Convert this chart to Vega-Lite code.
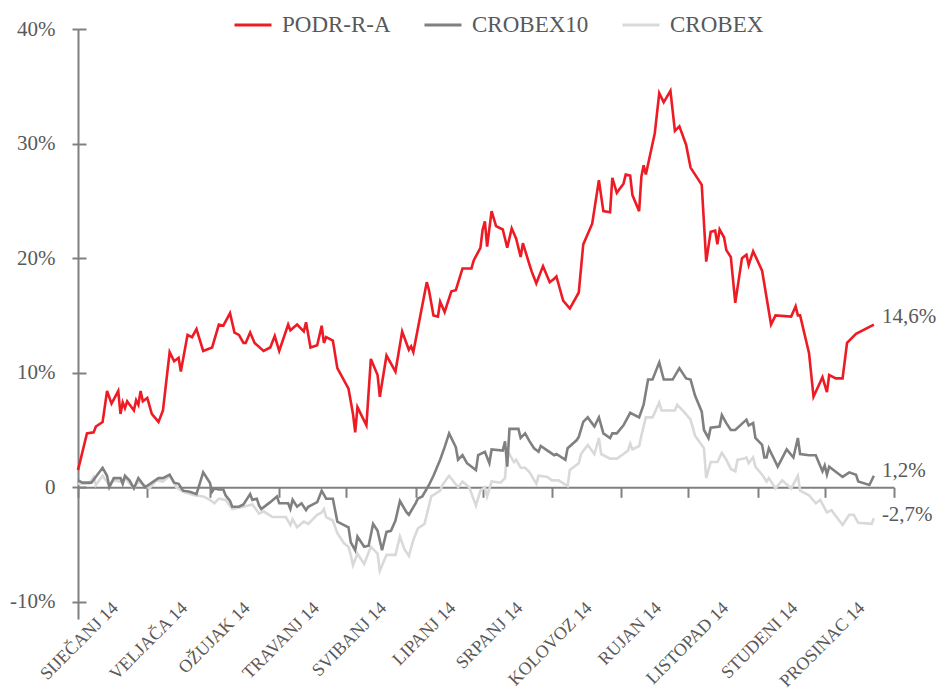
{
  "$schema": "https://vega.github.io/schema/vega-lite/v6.json",
  "width": 816,
  "height": 590,
  "autosize": {"type": "none"},
  "padding": {"left": 78, "top": 29, "right": 45, "bottom": 72},
  "background": "white",
  "config": {"view": {"stroke": null}, "font": "Liberation Serif"},
  "datasets": {
    "series": [
      {"s":"CROBEX","d":"2014-01-01","v":0.3},{"s":"CROBEX","d":"2014-01-03","v":0.3},{"s":"CROBEX","d":"2014-01-06","v":0.3},{"s":"CROBEX","d":"2014-01-08","v":0.9},{"s":"CROBEX","d":"2014-01-09","v":0.2},{"s":"CROBEX","d":"2014-01-12","v":1.0},{"s":"CROBEX","d":"2014-01-15","v":0.2},{"s":"CROBEX","d":"2014-01-17","v":0.6},{"s":"CROBEX","d":"2014-01-20","v":0.5},{"s":"CROBEX","d":"2014-01-22","v":0.8},{"s":"CROBEX","d":"2014-01-26","v":-0.1},{"s":"CROBEX","d":"2014-01-28","v":0.5},{"s":"CROBEX","d":"2014-02-02","v":-0.1},{"s":"CROBEX","d":"2014-02-05","v":0.6},{"s":"CROBEX","d":"2014-02-08","v":0.5},{"s":"CROBEX","d":"2014-02-11","v":1.0},{"s":"CROBEX","d":"2014-02-14","v":0.0},{"s":"CROBEX","d":"2014-02-17","v":-0.4},{"s":"CROBEX","d":"2014-02-22","v":-0.7},{"s":"CROBEX","d":"2014-02-26","v":-0.8},{"s":"CROBEX","d":"2014-03-01","v":-1.1},{"s":"CROBEX","d":"2014-03-03","v":-1.4},{"s":"CROBEX","d":"2014-03-05","v":-1.0},{"s":"CROBEX","d":"2014-03-08","v":-1.1},{"s":"CROBEX","d":"2014-03-11","v":-1.9},{"s":"CROBEX","d":"2014-03-16","v":-1.7},{"s":"CROBEX","d":"2014-03-20","v":-1.5},{"s":"CROBEX","d":"2014-03-23","v":-2.3},{"s":"CROBEX","d":"2014-03-25","v":-2.1},{"s":"CROBEX","d":"2014-03-29","v":-2.6},{"s":"CROBEX","d":"2014-04-04","v":-2.6},{"s":"CROBEX","d":"2014-04-06","v":-3.3},{"s":"CROBEX","d":"2014-04-07","v":-2.8},{"s":"CROBEX","d":"2014-04-09","v":-3.5},{"s":"CROBEX","d":"2014-04-12","v":-3.0},{"s":"CROBEX","d":"2014-04-14","v":-3.2},{"s":"CROBEX","d":"2014-04-18","v":-2.4},{"s":"CROBEX","d":"2014-04-20","v":-2.2},{"s":"CROBEX","d":"2014-04-21","v":-1.9},{"s":"CROBEX","d":"2014-04-22","v":-2.6},{"s":"CROBEX","d":"2014-04-25","v":-2.9},{"s":"CROBEX","d":"2014-04-27","v":-4.0},{"s":"CROBEX","d":"2014-04-30","v":-4.9},{"s":"CROBEX","d":"2014-05-02","v":-5.2},{"s":"CROBEX","d":"2014-05-03","v":-5.9},{"s":"CROBEX","d":"2014-05-04","v":-6.8},{"s":"CROBEX","d":"2014-05-06","v":-5.8},{"s":"CROBEX","d":"2014-05-09","v":-6.7},{"s":"CROBEX","d":"2014-05-12","v":-5.2},{"s":"CROBEX","d":"2014-05-15","v":-5.8},{"s":"CROBEX","d":"2014-05-16","v":-7.3},{"s":"CROBEX","d":"2014-05-19","v":-5.9},{"s":"CROBEX","d":"2014-05-23","v":-5.9},{"s":"CROBEX","d":"2014-05-25","v":-4.3},{"s":"CROBEX","d":"2014-05-27","v":-5.4},{"s":"CROBEX","d":"2014-05-29","v":-6.0},{"s":"CROBEX","d":"2014-05-31","v":-4.6},{"s":"CROBEX","d":"2014-06-02","v":-3.6},{"s":"CROBEX","d":"2014-06-05","v":-3.2},{"s":"CROBEX","d":"2014-06-07","v":-1.6},{"s":"CROBEX","d":"2014-06-08","v":-0.8},{"s":"CROBEX","d":"2014-06-12","v":-0.3},{"s":"CROBEX","d":"2014-06-13","v":0.2},{"s":"CROBEX","d":"2014-06-16","v":1.0},{"s":"CROBEX","d":"2014-06-20","v":0.0},{"s":"CROBEX","d":"2014-06-22","v":0.5},{"s":"CROBEX","d":"2014-06-25","v":0.0},{"s":"CROBEX","d":"2014-06-28","v":-1.6},{"s":"CROBEX","d":"2014-06-30","v":-0.3},{"s":"CROBEX","d":"2014-07-02","v":0.0},{"s":"CROBEX","d":"2014-07-03","v":-0.8},{"s":"CROBEX","d":"2014-07-05","v":0.5},{"s":"CROBEX","d":"2014-07-09","v":0.4},{"s":"CROBEX","d":"2014-07-11","v":0.8},{"s":"CROBEX","d":"2014-07-12","v":3.2},{"s":"CROBEX","d":"2014-07-15","v":2.2},{"s":"CROBEX","d":"2014-07-16","v":2.4},{"s":"CROBEX","d":"2014-07-18","v":1.7},{"s":"CROBEX","d":"2014-07-20","v":1.7},{"s":"CROBEX","d":"2014-07-22","v":1.3},{"s":"CROBEX","d":"2014-07-25","v":0.3},{"s":"CROBEX","d":"2014-07-26","v":1.0},{"s":"CROBEX","d":"2014-07-30","v":0.9},{"s":"CROBEX","d":"2014-08-01","v":0.6},{"s":"CROBEX","d":"2014-08-04","v":0.6},{"s":"CROBEX","d":"2014-08-08","v":0.1},{"s":"CROBEX","d":"2014-08-09","v":1.5},{"s":"CROBEX","d":"2014-08-13","v":2.1},{"s":"CROBEX","d":"2014-08-14","v":2.9},{"s":"CROBEX","d":"2014-08-17","v":3.7},{"s":"CROBEX","d":"2014-08-20","v":2.9},{"s":"CROBEX","d":"2014-08-22","v":4.3},{"s":"CROBEX","d":"2014-08-23","v":2.9},{"s":"CROBEX","d":"2014-08-27","v":2.5},{"s":"CROBEX","d":"2014-08-30","v":2.5},{"s":"CROBEX","d":"2014-09-02","v":2.9},{"s":"CROBEX","d":"2014-09-04","v":3.2},{"s":"CROBEX","d":"2014-09-05","v":3.8},{"s":"CROBEX","d":"2014-09-06","v":3.3},{"s":"CROBEX","d":"2014-09-09","v":3.6},{"s":"CROBEX","d":"2014-09-10","v":4.5},{"s":"CROBEX","d":"2014-09-12","v":6.1},{"s":"CROBEX","d":"2014-09-15","v":6.1},{"s":"CROBEX","d":"2014-09-18","v":7.4},{"s":"CROBEX","d":"2014-09-19","v":6.7},{"s":"CROBEX","d":"2014-09-25","v":6.7},{"s":"CROBEX","d":"2014-09-26","v":7.2},{"s":"CROBEX","d":"2014-09-29","v":6.6},{"s":"CROBEX","d":"2014-10-02","v":5.9},{"s":"CROBEX","d":"2014-10-04","v":4.5},{"s":"CROBEX","d":"2014-10-08","v":3.4},{"s":"CROBEX","d":"2014-10-09","v":0.8},{"s":"CROBEX","d":"2014-10-11","v":2.2},{"s":"CROBEX","d":"2014-10-14","v":2.2},{"s":"CROBEX","d":"2014-10-16","v":3.0},{"s":"CROBEX","d":"2014-10-18","v":2.4},{"s":"CROBEX","d":"2014-10-20","v":1.6},{"s":"CROBEX","d":"2014-10-22","v":1.4},{"s":"CROBEX","d":"2014-10-23","v":2.4},{"s":"CROBEX","d":"2014-10-26","v":2.5},{"s":"CROBEX","d":"2014-10-27","v":2.6},{"s":"CROBEX","d":"2014-10-28","v":2.1},{"s":"CROBEX","d":"2014-10-30","v":2.6},{"s":"CROBEX","d":"2014-10-31","v":1.8},{"s":"CROBEX","d":"2014-11-03","v":1.1},{"s":"CROBEX","d":"2014-11-05","v":0.5},{"s":"CROBEX","d":"2014-11-06","v":0.8},{"s":"CROBEX","d":"2014-11-09","v":-0.1},{"s":"CROBEX","d":"2014-11-12","v":0.6},{"s":"CROBEX","d":"2014-11-16","v":-0.1},{"s":"CROBEX","d":"2014-11-19","v":1.0},{"s":"CROBEX","d":"2014-11-20","v":-0.3},{"s":"CROBEX","d":"2014-11-24","v":-0.7},{"s":"CROBEX","d":"2014-11-27","v":-1.4},{"s":"CROBEX","d":"2014-11-29","v":-1.1},{"s":"CROBEX","d":"2014-12-02","v":-2.2},{"s":"CROBEX","d":"2014-12-04","v":-2.0},{"s":"CROBEX","d":"2014-12-09","v":-3.3},{"s":"CROBEX","d":"2014-12-12","v":-2.4},{"s":"CROBEX","d":"2014-12-14","v":-2.4},{"s":"CROBEX","d":"2014-12-16","v":-3.1},{"s":"CROBEX","d":"2014-12-22","v":-3.2},{"s":"CROBEX","d":"2014-12-23","v":-2.7},
      {"s":"CROBEX10","d":"2014-01-01","v":0.6},{"s":"CROBEX10","d":"2014-01-03","v":0.4},{"s":"CROBEX10","d":"2014-01-07","v":0.4},{"s":"CROBEX10","d":"2014-01-12","v":1.7},{"s":"CROBEX10","d":"2014-01-14","v":1.0},{"s":"CROBEX10","d":"2014-01-15","v":0.0},{"s":"CROBEX10","d":"2014-01-17","v":0.8},{"s":"CROBEX10","d":"2014-01-20","v":0.8},{"s":"CROBEX10","d":"2014-01-21","v":0.3},{"s":"CROBEX10","d":"2014-01-22","v":1.0},{"s":"CROBEX10","d":"2014-01-24","v":0.6},{"s":"CROBEX10","d":"2014-01-26","v":-0.1},{"s":"CROBEX10","d":"2014-01-28","v":0.8},{"s":"CROBEX10","d":"2014-01-31","v":0.0},{"s":"CROBEX10","d":"2014-02-06","v":0.8},{"s":"CROBEX10","d":"2014-02-08","v":0.8},{"s":"CROBEX10","d":"2014-02-11","v":1.1},{"s":"CROBEX10","d":"2014-02-13","v":0.4},{"s":"CROBEX10","d":"2014-02-15","v":0.3},{"s":"CROBEX10","d":"2014-02-17","v":-0.3},{"s":"CROBEX10","d":"2014-02-20","v":-0.4},{"s":"CROBEX10","d":"2014-02-23","v":-0.6},{"s":"CROBEX10","d":"2014-02-26","v":1.3},{"s":"CROBEX10","d":"2014-03-01","v":0.4},{"s":"CROBEX10","d":"2014-03-02","v":-0.4},{"s":"CROBEX10","d":"2014-03-03","v":-0.1},{"s":"CROBEX10","d":"2014-03-05","v":-0.2},{"s":"CROBEX10","d":"2014-03-07","v":-0.2},{"s":"CROBEX10","d":"2014-03-08","v":-0.7},{"s":"CROBEX10","d":"2014-03-10","v":-1.2},{"s":"CROBEX10","d":"2014-03-11","v":-1.7},{"s":"CROBEX10","d":"2014-03-14","v":-1.7},{"s":"CROBEX10","d":"2014-03-16","v":-1.5},{"s":"CROBEX10","d":"2014-03-19","v":-0.6},{"s":"CROBEX10","d":"2014-03-20","v":-1.1},{"s":"CROBEX10","d":"2014-03-22","v":-1.0},{"s":"CROBEX10","d":"2014-03-23","v":-1.6},{"s":"CROBEX10","d":"2014-03-24","v":-1.9},{"s":"CROBEX10","d":"2014-03-28","v":-1.3},{"s":"CROBEX10","d":"2014-03-31","v":-0.8},{"s":"CROBEX10","d":"2014-04-01","v":-1.4},{"s":"CROBEX10","d":"2014-04-05","v":-1.4},{"s":"CROBEX10","d":"2014-04-06","v":-1.9},{"s":"CROBEX10","d":"2014-04-07","v":-1.1},{"s":"CROBEX10","d":"2014-04-09","v":-1.7},{"s":"CROBEX10","d":"2014-04-11","v":-1.4},{"s":"CROBEX10","d":"2014-04-13","v":-2.0},{"s":"CROBEX10","d":"2014-04-14","v":-1.7},{"s":"CROBEX10","d":"2014-04-18","v":-1.3},{"s":"CROBEX10","d":"2014-04-20","v":-0.3},{"s":"CROBEX10","d":"2014-04-22","v":-1.0},{"s":"CROBEX10","d":"2014-04-25","v":-1.0},{"s":"CROBEX10","d":"2014-04-27","v":-3.0},{"s":"CROBEX10","d":"2014-04-30","v":-3.3},{"s":"CROBEX10","d":"2014-05-02","v":-3.5},{"s":"CROBEX10","d":"2014-05-03","v":-4.8},{"s":"CROBEX10","d":"2014-05-05","v":-5.5},{"s":"CROBEX10","d":"2014-05-06","v":-4.3},{"s":"CROBEX10","d":"2014-05-09","v":-5.2},{"s":"CROBEX10","d":"2014-05-11","v":-5.1},{"s":"CROBEX10","d":"2014-05-13","v":-3.2},{"s":"CROBEX10","d":"2014-05-15","v":-3.8},{"s":"CROBEX10","d":"2014-05-17","v":-5.5},{"s":"CROBEX10","d":"2014-05-19","v":-3.9},{"s":"CROBEX10","d":"2014-05-21","v":-3.8},{"s":"CROBEX10","d":"2014-05-23","v":-2.9},{"s":"CROBEX10","d":"2014-05-25","v":-1.2},{"s":"CROBEX10","d":"2014-05-28","v":-2.2},{"s":"CROBEX10","d":"2014-05-29","v":-2.4},{"s":"CROBEX10","d":"2014-06-01","v":-1.4},{"s":"CROBEX10","d":"2014-06-02","v":-1.0},{"s":"CROBEX10","d":"2014-06-04","v":-0.8},{"s":"CROBEX10","d":"2014-06-07","v":0.2},{"s":"CROBEX10","d":"2014-06-09","v":1.0},{"s":"CROBEX10","d":"2014-06-12","v":2.4},{"s":"CROBEX10","d":"2014-06-14","v":3.5},{"s":"CROBEX10","d":"2014-06-16","v":4.7},{"s":"CROBEX10","d":"2014-06-19","v":3.5},{"s":"CROBEX10","d":"2014-06-20","v":2.4},{"s":"CROBEX10","d":"2014-06-22","v":2.8},{"s":"CROBEX10","d":"2014-06-24","v":2.1},{"s":"CROBEX10","d":"2014-06-28","v":1.5},{"s":"CROBEX10","d":"2014-06-29","v":2.8},{"s":"CROBEX10","d":"2014-07-02","v":3.1},{"s":"CROBEX10","d":"2014-07-04","v":2.1},{"s":"CROBEX10","d":"2014-07-05","v":3.3},{"s":"CROBEX10","d":"2014-07-10","v":3.2},{"s":"CROBEX10","d":"2014-07-11","v":4.0},{"s":"CROBEX10","d":"2014-07-12","v":1.8},{"s":"CROBEX10","d":"2014-07-13","v":5.1},{"s":"CROBEX10","d":"2014-07-17","v":5.1},{"s":"CROBEX10","d":"2014-07-18","v":4.3},{"s":"CROBEX10","d":"2014-07-20","v":4.7},{"s":"CROBEX10","d":"2014-07-22","v":4.0},{"s":"CROBEX10","d":"2014-07-24","v":3.4},{"s":"CROBEX10","d":"2014-07-26","v":3.1},{"s":"CROBEX10","d":"2014-07-27","v":3.6},{"s":"CROBEX10","d":"2014-07-30","v":3.2},{"s":"CROBEX10","d":"2014-08-02","v":2.8},{"s":"CROBEX10","d":"2014-08-03","v":2.9},{"s":"CROBEX10","d":"2014-08-07","v":2.4},{"s":"CROBEX10","d":"2014-08-08","v":3.4},{"s":"CROBEX10","d":"2014-08-12","v":4.1},{"s":"CROBEX10","d":"2014-08-13","v":4.4},{"s":"CROBEX10","d":"2014-08-15","v":5.7},{"s":"CROBEX10","d":"2014-08-17","v":6.1},{"s":"CROBEX10","d":"2014-08-20","v":5.3},{"s":"CROBEX10","d":"2014-08-22","v":6.1},{"s":"CROBEX10","d":"2014-08-24","v":4.7},{"s":"CROBEX10","d":"2014-08-27","v":4.3},{"s":"CROBEX10","d":"2014-08-28","v":4.7},{"s":"CROBEX10","d":"2014-08-30","v":4.7},{"s":"CROBEX10","d":"2014-09-02","v":5.4},{"s":"CROBEX10","d":"2014-09-05","v":6.5},{"s":"CROBEX10","d":"2014-09-09","v":6.1},{"s":"CROBEX10","d":"2014-09-11","v":7.2},{"s":"CROBEX10","d":"2014-09-13","v":9.4},{"s":"CROBEX10","d":"2014-09-15","v":9.4},{"s":"CROBEX10","d":"2014-09-18","v":10.9},{"s":"CROBEX10","d":"2014-09-20","v":9.4},{"s":"CROBEX10","d":"2014-09-24","v":9.4},{"s":"CROBEX10","d":"2014-09-27","v":10.4},{"s":"CROBEX10","d":"2014-09-30","v":9.5},{"s":"CROBEX10","d":"2014-10-02","v":9.4},{"s":"CROBEX10","d":"2014-10-04","v":8.0},{"s":"CROBEX10","d":"2014-10-07","v":6.6},{"s":"CROBEX10","d":"2014-10-08","v":5.0},{"s":"CROBEX10","d":"2014-10-10","v":4.3},{"s":"CROBEX10","d":"2014-10-11","v":5.2},{"s":"CROBEX10","d":"2014-10-15","v":5.3},{"s":"CROBEX10","d":"2014-10-16","v":6.3},{"s":"CROBEX10","d":"2014-10-18","v":5.6},{"s":"CROBEX10","d":"2014-10-20","v":5.0},{"s":"CROBEX10","d":"2014-10-22","v":5.0},{"s":"CROBEX10","d":"2014-10-27","v":5.9},{"s":"CROBEX10","d":"2014-10-28","v":5.4},{"s":"CROBEX10","d":"2014-10-30","v":5.6},{"s":"CROBEX10","d":"2014-10-31","v":4.3},{"s":"CROBEX10","d":"2014-11-03","v":3.7},{"s":"CROBEX10","d":"2014-11-04","v":2.6},{"s":"CROBEX10","d":"2014-11-05","v":2.6},{"s":"CROBEX10","d":"2014-11-06","v":3.4},{"s":"CROBEX10","d":"2014-11-10","v":1.8},{"s":"CROBEX10","d":"2014-11-14","v":3.3},{"s":"CROBEX10","d":"2014-11-17","v":2.6},{"s":"CROBEX10","d":"2014-11-19","v":4.3},{"s":"CROBEX10","d":"2014-11-20","v":2.9},{"s":"CROBEX10","d":"2014-11-24","v":2.8},{"s":"CROBEX10","d":"2014-11-27","v":2.8},{"s":"CROBEX10","d":"2014-11-30","v":1.4},{"s":"CROBEX10","d":"2014-12-01","v":1.9},{"s":"CROBEX10","d":"2014-12-02","v":1.1},{"s":"CROBEX10","d":"2014-12-03","v":1.8},{"s":"CROBEX10","d":"2014-12-09","v":0.9},{"s":"CROBEX10","d":"2014-12-12","v":1.3},{"s":"CROBEX10","d":"2014-12-15","v":1.1},{"s":"CROBEX10","d":"2014-12-16","v":0.5},{"s":"CROBEX10","d":"2014-12-21","v":0.2},{"s":"CROBEX10","d":"2014-12-23","v":1.0},
      {"s":"PODR-R-A","d":"2014-01-01","v":1.5},{"s":"PODR-R-A","d":"2014-01-05","v":4.7},{"s":"PODR-R-A","d":"2014-01-08","v":4.8},{"s":"PODR-R-A","d":"2014-01-09","v":5.3},{"s":"PODR-R-A","d":"2014-01-12","v":5.7},{"s":"PODR-R-A","d":"2014-01-14","v":8.4},{"s":"PODR-R-A","d":"2014-01-16","v":7.3},{"s":"PODR-R-A","d":"2014-01-19","v":8.4},{"s":"PODR-R-A","d":"2014-01-20","v":6.4},{"s":"PODR-R-A","d":"2014-01-21","v":7.4},{"s":"PODR-R-A","d":"2014-01-22","v":6.9},{"s":"PODR-R-A","d":"2014-01-23","v":7.5},{"s":"PODR-R-A","d":"2014-01-26","v":6.7},{"s":"PODR-R-A","d":"2014-01-27","v":7.6},{"s":"PODR-R-A","d":"2014-01-28","v":7.2},{"s":"PODR-R-A","d":"2014-01-29","v":8.4},{"s":"PODR-R-A","d":"2014-01-30","v":7.5},{"s":"PODR-R-A","d":"2014-02-01","v":7.8},{"s":"PODR-R-A","d":"2014-02-03","v":6.4},{"s":"PODR-R-A","d":"2014-02-06","v":5.7},{"s":"PODR-R-A","d":"2014-02-08","v":6.7},{"s":"PODR-R-A","d":"2014-02-11","v":11.8},{"s":"PODR-R-A","d":"2014-02-13","v":11.0},{"s":"PODR-R-A","d":"2014-02-15","v":11.3},{"s":"PODR-R-A","d":"2014-02-16","v":10.1},{"s":"PODR-R-A","d":"2014-02-19","v":13.3},{"s":"PODR-R-A","d":"2014-02-21","v":13.1},{"s":"PODR-R-A","d":"2014-02-23","v":13.8},{"s":"PODR-R-A","d":"2014-02-26","v":11.9},{"s":"PODR-R-A","d":"2014-03-02","v":12.2},{"s":"PODR-R-A","d":"2014-03-05","v":14.2},{"s":"PODR-R-A","d":"2014-03-07","v":14.1},{"s":"PODR-R-A","d":"2014-03-10","v":15.2},{"s":"PODR-R-A","d":"2014-03-12","v":13.5},{"s":"PODR-R-A","d":"2014-03-14","v":13.3},{"s":"PODR-R-A","d":"2014-03-16","v":12.6},{"s":"PODR-R-A","d":"2014-03-17","v":12.6},{"s":"PODR-R-A","d":"2014-03-19","v":13.5},{"s":"PODR-R-A","d":"2014-03-21","v":12.6},{"s":"PODR-R-A","d":"2014-03-25","v":11.9},{"s":"PODR-R-A","d":"2014-03-28","v":12.2},{"s":"PODR-R-A","d":"2014-03-30","v":13.2},{"s":"PODR-R-A","d":"2014-04-01","v":11.9},{"s":"PODR-R-A","d":"2014-04-05","v":14.2},{"s":"PODR-R-A","d":"2014-04-06","v":13.7},{"s":"PODR-R-A","d":"2014-04-09","v":14.2},{"s":"PODR-R-A","d":"2014-04-12","v":13.6},{"s":"PODR-R-A","d":"2014-04-13","v":14.4},{"s":"PODR-R-A","d":"2014-04-15","v":12.2},{"s":"PODR-R-A","d":"2014-04-18","v":12.4},{"s":"PODR-R-A","d":"2014-04-20","v":14.1},{"s":"PODR-R-A","d":"2014-04-21","v":12.6},{"s":"PODR-R-A","d":"2014-04-22","v":13.1},{"s":"PODR-R-A","d":"2014-04-25","v":12.8},{"s":"PODR-R-A","d":"2014-04-27","v":10.4},{"s":"PODR-R-A","d":"2014-05-02","v":8.6},{"s":"PODR-R-A","d":"2014-05-04","v":6.4},{"s":"PODR-R-A","d":"2014-05-05","v":4.8},{"s":"PODR-R-A","d":"2014-05-06","v":7.0},{"s":"PODR-R-A","d":"2014-05-10","v":5.4},{"s":"PODR-R-A","d":"2014-05-12","v":11.2},{"s":"PODR-R-A","d":"2014-05-15","v":9.8},{"s":"PODR-R-A","d":"2014-05-16","v":7.9},{"s":"PODR-R-A","d":"2014-05-19","v":11.5},{"s":"PODR-R-A","d":"2014-05-23","v":10.1},{"s":"PODR-R-A","d":"2014-05-26","v":13.6},{"s":"PODR-R-A","d":"2014-05-29","v":12.0},{"s":"PODR-R-A","d":"2014-05-30","v":12.3},{"s":"PODR-R-A","d":"2014-05-31","v":11.8},{"s":"PODR-R-A","d":"2014-06-06","v":17.9},{"s":"PODR-R-A","d":"2014-06-07","v":17.2},{"s":"PODR-R-A","d":"2014-06-09","v":15.0},{"s":"PODR-R-A","d":"2014-06-11","v":14.9},{"s":"PODR-R-A","d":"2014-06-12","v":16.2},{"s":"PODR-R-A","d":"2014-06-14","v":15.3},{"s":"PODR-R-A","d":"2014-06-17","v":17.1},{"s":"PODR-R-A","d":"2014-06-19","v":17.2},{"s":"PODR-R-A","d":"2014-06-22","v":19.1},{"s":"PODR-R-A","d":"2014-06-26","v":19.1},{"s":"PODR-R-A","d":"2014-06-27","v":19.8},{"s":"PODR-R-A","d":"2014-06-30","v":20.9},{"s":"PODR-R-A","d":"2014-07-01","v":22.5},{"s":"PODR-R-A","d":"2014-07-02","v":23.2},{"s":"PODR-R-A","d":"2014-07-03","v":21.0},{"s":"PODR-R-A","d":"2014-07-05","v":24.1},{"s":"PODR-R-A","d":"2014-07-07","v":22.8},{"s":"PODR-R-A","d":"2014-07-10","v":22.5},{"s":"PODR-R-A","d":"2014-07-12","v":20.9},{"s":"PODR-R-A","d":"2014-07-14","v":22.6},{"s":"PODR-R-A","d":"2014-07-16","v":21.7},{"s":"PODR-R-A","d":"2014-07-18","v":20.1},{"s":"PODR-R-A","d":"2014-07-19","v":21.3},{"s":"PODR-R-A","d":"2014-07-22","v":19.4},{"s":"PODR-R-A","d":"2014-07-23","v":18.8},{"s":"PODR-R-A","d":"2014-07-25","v":17.8},{"s":"PODR-R-A","d":"2014-07-28","v":19.3},{"s":"PODR-R-A","d":"2014-07-31","v":17.9},{"s":"PODR-R-A","d":"2014-08-02","v":18.2},{"s":"PODR-R-A","d":"2014-08-03","v":18.4},{"s":"PODR-R-A","d":"2014-08-06","v":16.3},{"s":"PODR-R-A","d":"2014-08-09","v":15.6},{"s":"PODR-R-A","d":"2014-08-13","v":17.0},{"s":"PODR-R-A","d":"2014-08-15","v":21.2},{"s":"PODR-R-A","d":"2014-08-19","v":23.0},{"s":"PODR-R-A","d":"2014-08-22","v":26.8},{"s":"PODR-R-A","d":"2014-08-24","v":24.1},{"s":"PODR-R-A","d":"2014-08-27","v":24.0},{"s":"PODR-R-A","d":"2014-08-28","v":27.0},{"s":"PODR-R-A","d":"2014-08-30","v":25.7},{"s":"PODR-R-A","d":"2014-09-02","v":26.5},{"s":"PODR-R-A","d":"2014-09-03","v":27.3},{"s":"PODR-R-A","d":"2014-09-05","v":27.2},{"s":"PODR-R-A","d":"2014-09-06","v":25.5},{"s":"PODR-R-A","d":"2014-09-09","v":24.1},{"s":"PODR-R-A","d":"2014-09-10","v":27.1},{"s":"PODR-R-A","d":"2014-09-11","v":28.1},{"s":"PODR-R-A","d":"2014-09-12","v":27.3},{"s":"PODR-R-A","d":"2014-09-16","v":30.9},{"s":"PODR-R-A","d":"2014-09-18","v":34.4},{"s":"PODR-R-A","d":"2014-09-20","v":33.6},{"s":"PODR-R-A","d":"2014-09-23","v":34.6},{"s":"PODR-R-A","d":"2014-09-25","v":31.1},{"s":"PODR-R-A","d":"2014-09-27","v":31.5},{"s":"PODR-R-A","d":"2014-09-30","v":29.9},{"s":"PODR-R-A","d":"2014-10-02","v":27.9},{"s":"PODR-R-A","d":"2014-10-07","v":26.4},{"s":"PODR-R-A","d":"2014-10-09","v":19.7},{"s":"PODR-R-A","d":"2014-10-11","v":22.3},{"s":"PODR-R-A","d":"2014-10-13","v":22.4},{"s":"PODR-R-A","d":"2014-10-14","v":21.2},{"s":"PODR-R-A","d":"2014-10-15","v":22.5},{"s":"PODR-R-A","d":"2014-10-17","v":21.8},{"s":"PODR-R-A","d":"2014-10-18","v":20.7},{"s":"PODR-R-A","d":"2014-10-20","v":20.1},{"s":"PODR-R-A","d":"2014-10-22","v":16.1},{"s":"PODR-R-A","d":"2014-10-25","v":20.0},{"s":"PODR-R-A","d":"2014-10-27","v":20.3},{"s":"PODR-R-A","d":"2014-10-28","v":19.4},{"s":"PODR-R-A","d":"2014-10-30","v":20.6},{"s":"PODR-R-A","d":"2014-11-03","v":18.9},{"s":"PODR-R-A","d":"2014-11-07","v":14.2},{"s":"PODR-R-A","d":"2014-11-09","v":15.0},{"s":"PODR-R-A","d":"2014-11-16","v":14.9},{"s":"PODR-R-A","d":"2014-11-18","v":15.8},{"s":"PODR-R-A","d":"2014-11-19","v":15.0},{"s":"PODR-R-A","d":"2014-11-20","v":15.0},{"s":"PODR-R-A","d":"2014-11-24","v":11.7},{"s":"PODR-R-A","d":"2014-11-26","v":7.9},{"s":"PODR-R-A","d":"2014-11-30","v":9.6},{"s":"PODR-R-A","d":"2014-12-02","v":8.3},{"s":"PODR-R-A","d":"2014-12-03","v":9.8},{"s":"PODR-R-A","d":"2014-12-06","v":9.5},{"s":"PODR-R-A","d":"2014-12-09","v":9.5},{"s":"PODR-R-A","d":"2014-12-11","v":12.6},{"s":"PODR-R-A","d":"2014-12-15","v":13.4},{"s":"PODR-R-A","d":"2014-12-23","v":14.2}
    ],
    "ends": [
      {"s":"PODR-R-A","d":"2014-12-23","v":14.6,"t":"14,6%"},
      {"s":"CROBEX10","d":"2014-12-23","v":1.2,"t":"1,2%"},
      {"s":"CROBEX","d":"2014-12-23","v":-2.7,"t":"-2,7%"}
    ]
  },
  "layer": [
    {
      "data": {"name": "series"},
      "mark": {"type": "line", "strokeWidth": 2.6, "strokeJoin": "miter"},
      "encoding": {
        "x": {
          "field": "d", "type": "temporal",
          "scale": {"type": "utc", "domain": ["2014-01-01", "2015-01-01"]},
          "axis": {
            "orient": "bottom", "title": null, "domain": false, "ticks": false, "grid": false,
            "tickCount": {"interval": "month", "step": 1},
            "labelExpr": "utcyear(datum.value) > 2014 ? '' : ['SIJEČANJ','VELJAČA','OŽUJAK','TRAVANJ','SVIBANJ','LIPANJ','SRPANJ','KOLOVOZ','RUJAN','LISTOPAD','STUDENI','PROSINAC'][utcmonth(datum.value)] + ' 14'",
            "labelAngle": -45, "labelAlign": "right", "labelBaseline": "middle",
            "labelOffset": 37, "labelPadding": -14, "labelFontSize": 18,
            "labelColor": "#595959", "labelFont": "Liberation Serif",
            "labelOverlap": false, "labelFlush": false, "labelBound": false
          }
        },
        "y": {
          "field": "v", "type": "quantitative",
          "scale": {"domain": [-11.5, 40], "nice": false, "zero": false},
          "axis": {
            "orient": "left", "title": null, "grid": false,
            "values": [-10, 0, 10, 20, 30, 40],
            "labelExpr": "datum.value == 0 ? '0' : datum.value + '%'",
            "domainColor": "#808080", "domainWidth": 2,
            "tickColor": "#808080", "tickWidth": 2, "tickSize": 6,
            "labelPadding": 17, "labelFontSize": 21, "labelColor": "#595959",
            "labelFont": "Liberation Serif"
          }
        },
        "color": {
          "field": "s", "type": "nominal",
          "scale": {"domain": ["PODR-R-A", "CROBEX10", "CROBEX"], "range": ["#ED1C24", "#808080", "#D9D9D9"]},
          "legend": {
            "orient": "none", "legendX": 155, "legendY": -24, "direction": "horizontal",
            "title": null, "symbolType": "stroke", "symbolSize": 1369, "symbolStrokeWidth": 3,
            "labelFontSize": 23, "labelColor": "#595959", "labelFont": "Liberation Serif",
            "columnPadding": 27, "labelOffset": 9, "labelLimit": 300, "padding": 0
          }
        }
      }
    },
    {
      "data": {"name": "ends"},
      "mark": {"type": "text", "align": "left", "baseline": "middle", "dx": 8, "dy": -3, "fontSize": 21, "font": "Liberation Serif", "color": "#595959"},
      "encoding": {
        "x": {
          "field": "d", "type": "temporal",
          "scale": {"type": "utc", "domain": ["2014-01-01", "2015-01-01"]},
          "axis": {
            "orient": "bottom", "offset": -131.7, "title": null, "labels": false, "grid": false,
            "domain": true, "domainColor": "#808080", "domainWidth": 2,
            "ticks": true, "tickColor": "#808080", "tickWidth": 2, "tickSize": 10,
            "tickCount": {"interval": "month", "step": 1}
          }
        },
        "y": {
          "field": "v", "type": "quantitative",
          "scale": {"domain": [-11.5, 40], "nice": false, "zero": false},
          "axis": {
            "orient": "left", "offset": -8, "title": null, "labels": false, "grid": false,
            "domain": false, "ticks": true, "tickColor": "#808080", "tickWidth": 2, "tickSize": 8,
            "values": [-10, 0, 10, 20, 30, 40]
          }
        },
        "text": {"field": "t", "type": "nominal"}
      }
    }
  ],
  "resolve": {"axis": {"x": "independent", "y": "independent"}}
}
